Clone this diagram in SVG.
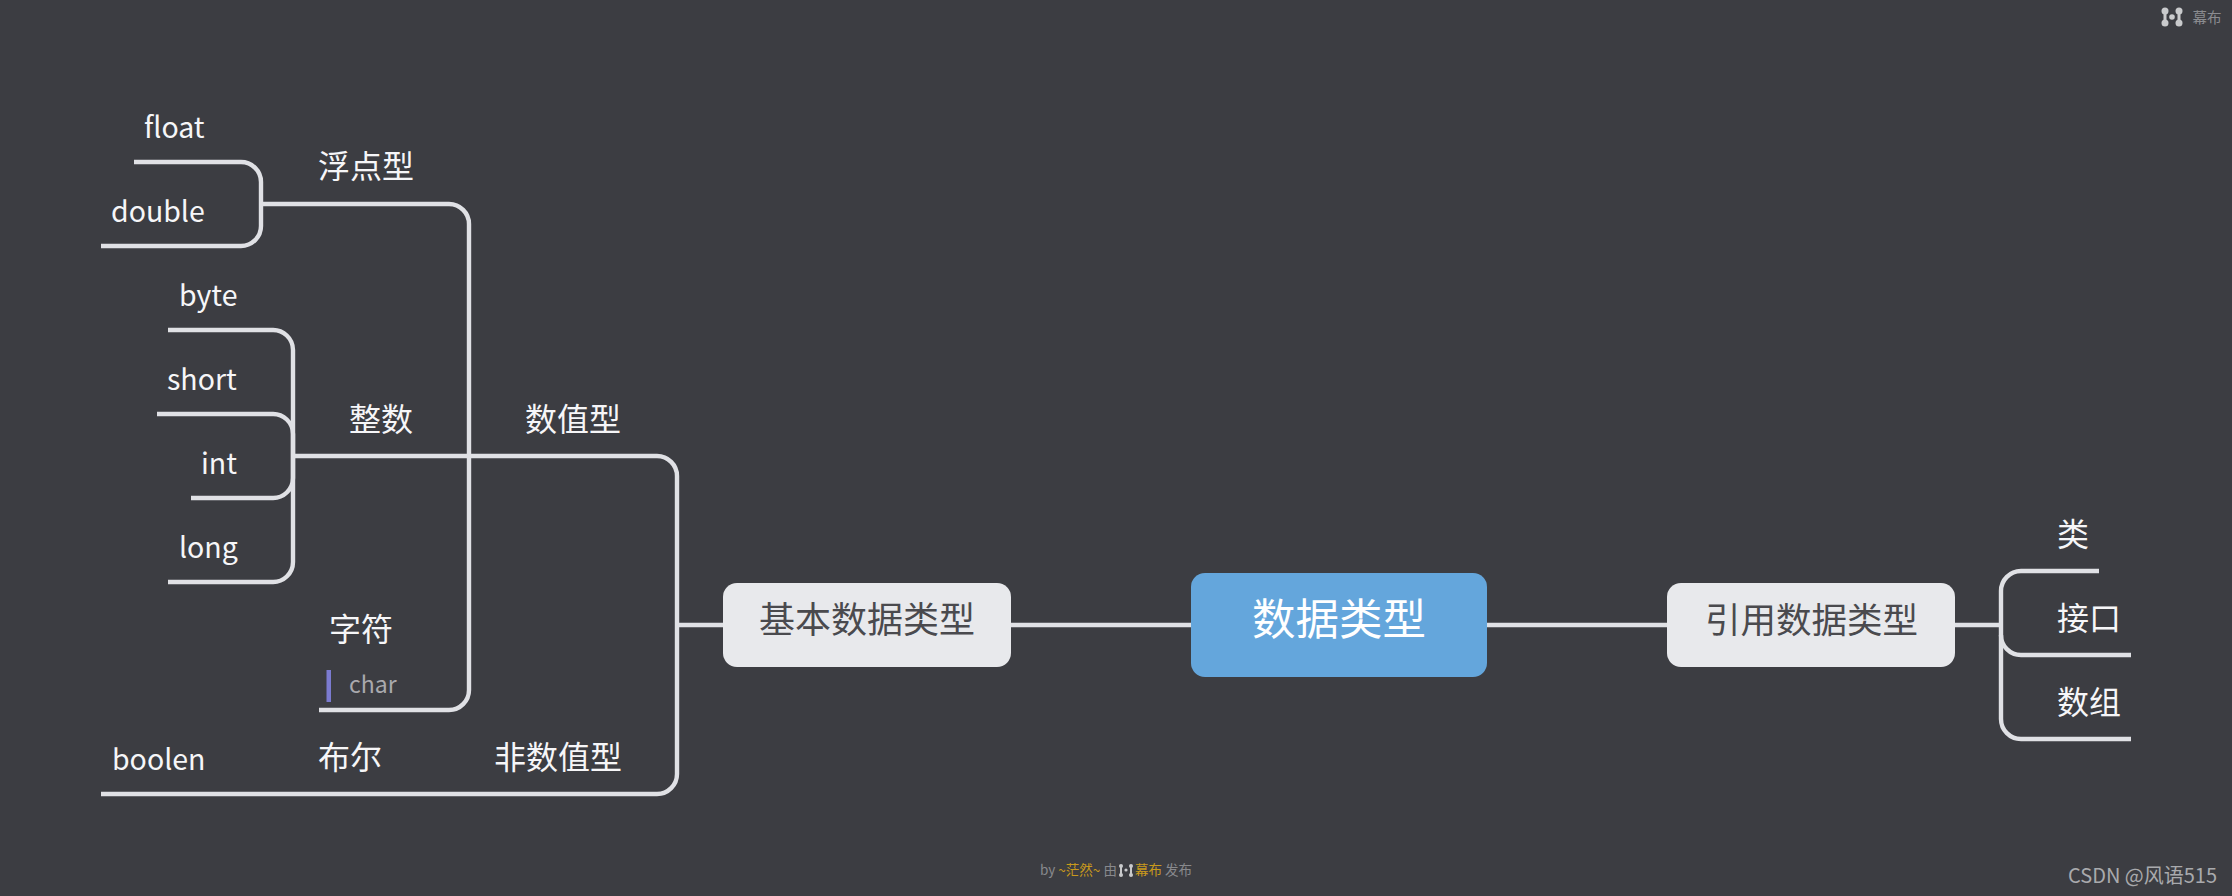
<svg xmlns="http://www.w3.org/2000/svg" width="2232" height="896" viewBox="0 0 2232 896">
<style>
text{font-family:"Noto Sans CJK SC","Noto Sans",sans-serif}
.c{fill:none;stroke:#e0e1e5;stroke-width:4.4}
.t{font-size:32px;fill:#f6f6f8}
.a{font-size:28.500px;fill:#f6f6f8}
.n{font-size:36px;fill:#4a4a4e;text-anchor:middle}
.b{fill:#e8e9ec}
</style>
<rect width="2232" height="896" fill="#3c3d42"/>
<g id="connectors">
<path class="c" d="M134 162H241A20 20 0 0 1 261 182V226A20 20 0 0 1 241 246H101"/>
<path class="c" d="M261 204H449A20 20 0 0 1 469 224V690A20 20 0 0 1 449 710H319"/>
<path class="c" d="M168 330H272A20 20 0 0 1 293 350V562A20 20 0 0 1 272 582H168"/>
<path class="c" d="M157 414H272A20 20 0 0 1 293 434V478A20 20 0 0 1 272 498H191"/>
<path class="c" d="M293 456H657A20 20 0 0 1 677 476V774A20 20 0 0 1 657 794H101"/>
<path class="c" d="M677 625H723M1011 625H1191M1487 625H1667M1955 625H2001"/>
<path class="c" d="M2099 571H2021A20 20 0 0 0 2001 591V635A20 20 0 0 0 2021 655H2131"/>
<path class="c" d="M2001 635V719A20 20 0 0 0 2021 739H2131"/>
</g>
<g id="root"><rect x="1191" y="573" width="296" height="104" rx="14" fill="#64a6dc"/><text x="1339" y="635" font-size="43.500" fill="#fff" text-anchor="middle">数据类型</text></g>
<g id="basic"><rect class="b" x="723" y="583" width="288" height="84" rx="14"/><text class="n" x="867" y="633">基本数据类型</text></g>
<g id="reference"><rect class="b" x="1667" y="583" width="288" height="84" rx="14"/><text class="n" x="1811.500" y="633" font-size="35.500" style="font-size:35.500px">引用数据类型</text></g>
<g id="numeric"><text class="t" x="525" y="431">数值型</text></g>
<g id="non-numeric"><text class="t" x="494" y="769">非数值型</text></g>
<g id="floating"><text class="t" x="318" y="178">浮点型</text></g>
<g id="integer"><text class="t" x="349" y="431">整数</text></g>
<g id="character"><text class="t" x="329" y="641">字符</text><rect x="326.500" y="670" width="4.500" height="32" fill="#7b7bd0"/><text x="349" y="693" font-size="23" fill="#a9a9ad">char</text></g>
<g id="bool"><text class="t" x="318" y="769">布尔</text></g>
<g id="float"><text class="a" x="144" y="138">float</text></g>
<g id="double"><text class="a" x="111" y="222">double</text></g>
<g id="byte"><text class="a" x="179" y="306">byte</text></g>
<g id="short"><text class="a" x="167" y="390">short</text></g>
<g id="int"><text class="a" x="201" y="474">int</text></g>
<g id="long"><text class="a" x="179" y="558">long</text></g>
<g id="boolen"><text class="a" x="112" y="770">boolen</text></g>
<g id="class"><text class="t" x="2057" y="546">类</text></g>
<g id="interface"><text class="t" x="2057" y="630">接口</text></g>
<g id="array"><text class="t" x="2057" y="714">数组</text></g>
<g id="logo-top"><path fill="none" stroke="#c9cacc" stroke-width="3" d="M2165 11V23M2179 11V23"/><g fill="#c9cacc"><circle cx="2165" cy="11" r="3.500"/><circle cx="2165" cy="23" r="3.500"/><circle cx="2172" cy="17" r="2.800"/><circle cx="2179" cy="11" r="3.500"/><circle cx="2179" cy="23" r="3.500"/></g><text x="2192.500" y="23" font-size="14.500" fill="#8b8c90">幕布</text></g>
<g id="footer"><text x="1040" y="875" font-size="13.500" fill="#88898d">by <tspan fill="#c8991c">~茫然~</tspan> 由</text><path fill="none" stroke="#c9cacc" stroke-width="2" d="M1121 866V875M1131 866V875"/><g fill="#c9cacc"><circle cx="1121" cy="866" r="2"/><circle cx="1121" cy="875" r="2"/><circle cx="1126" cy="870" r="1.600"/><circle cx="1131" cy="866" r="2"/><circle cx="1131" cy="875" r="2"/></g><text x="1135" y="875" font-size="13.500" fill="#88898d"><tspan fill="#c8991c">幕布</tspan> 发布</text></g>
<g id="watermark"><text x="2068" y="883" font-size="20" fill="#a9aaad" font-family="Liberation Sans">CSDN @风语515</text></g>
</svg>
